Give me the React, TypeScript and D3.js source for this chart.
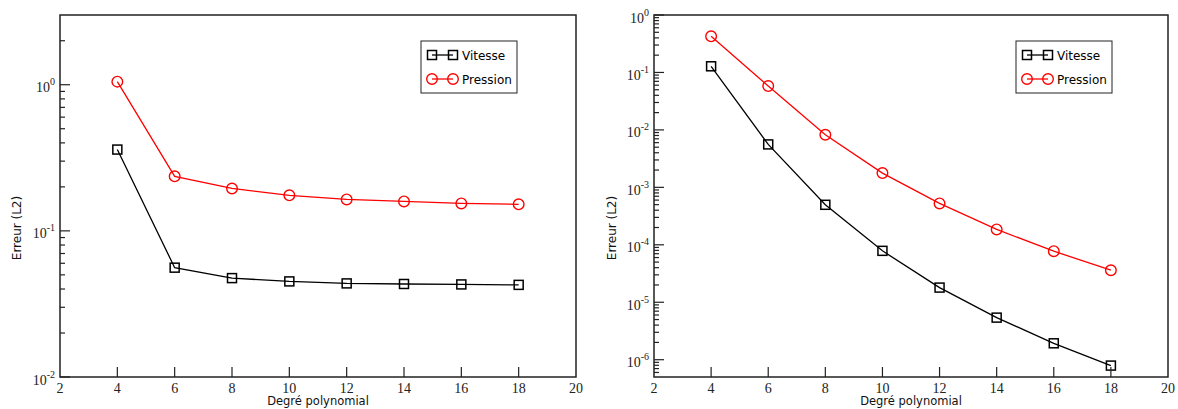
import React from "react";
import * as d3 from "d3";

const degrees = [4, 6, 8, 10, 12, 14, 16, 18];
const xTicks = [2, 4, 6, 8, 10, 12, 14, 16, 18, 20];

// Left panel
const leftVitesse = [0.36, 0.056, 0.0475, 0.0451, 0.0437, 0.0433, 0.043, 0.0427];
const leftPression = [1.05, 0.236, 0.195, 0.175, 0.164, 0.159, 0.154, 0.152];
const leftYDomain = [0.01, 3];
const leftDecades = [-2, -1, 0];

// Right panel
const rightVitesse = [0.128, 5.59e-3, 4.97e-4, 7.85e-5, 1.8e-5, 5.4e-6, 1.93e-6, 7.9e-7];
const rightPression = [0.425, 0.058, 8.24e-3, 1.77e-3, 5.25e-4, 1.85e-4, 7.74e-5, 3.61e-5];
const rightYDomain = [5e-7, 1];
const rightDecades = [-6, -5, -4, -3, -2, -1, 0];

const seriesNames = ["Vitesse", "Pression"];
const xTitle = "Degré polynomial";
const yTitle = "Erreur (L2)";

const SANS = "DejaVu Sans";
const SERIF = "Liberation Serif";

type PanelProps = {
  x0: number;
  x1: number;
  y0: number;
  y1: number;
  yDomain: number[];
  decades: number[];
  vitesse: number[];
  pression: number[];
  legendX: number;
  yTitleX: number;
};

function Square({ cx, cy }: { cx: number; cy: number }) {
  const s = 9;
  return (
    <rect x={cx - s / 2} y={cy - s / 2} width={s} height={s} fill="none" stroke="#000" strokeWidth={1.5} />
  );
}

function Circle({ cx, cy }: { cx: number; cy: number }) {
  return <circle cx={cx} cy={cy} r={5.3} fill="none" stroke="#ff0000" strokeWidth={1.4} />;
}

function Panel(p: PanelProps) {
  const x = d3.scaleLinear().domain([2, 20]).range([p.x0, p.x1]);
  const y = d3.scaleLog().domain(p.yDomain).range([p.y1, p.y0]);
  const line = d3
    .line<number>()
    .x((_, i) => x(degrees[i]))
    .y((d) => y(d));

  const [lo, hi] = p.yDomain;
  const minor: number[] = [];
  for (let e = Math.floor(Math.log10(lo)); e <= Math.ceil(Math.log10(hi)); e++) {
    for (let m = 2; m <= 9; m++) {
      const v = m * Math.pow(10, e);
      if (v > lo * 1.0001 && v < hi * 0.9999) minor.push(v);
    }
  }

  const frame = "#222";
  const midX = (p.x0 + p.x1) / 2;

  return (
    <g>
      {/* series */}
      <path d={line(p.vitesse) || ""} fill="none" stroke="#000" strokeWidth={1.3} />
      <path d={line(p.pression) || ""} fill="none" stroke="#ff0000" strokeWidth={1.3} />
      {p.vitesse.map((v, i) => (
        <Square key={"v" + i} cx={x(degrees[i])} cy={y(v)} />
      ))}
      {p.pression.map((v, i) => (
        <Circle key={"p" + i} cx={x(degrees[i])} cy={y(v)} />
      ))}

      {/* frame */}
      <rect x={p.x0} y={p.y0} width={p.x1 - p.x0} height={p.y1 - p.y0} fill="none" stroke={frame} strokeWidth={1.5} />

      {/* x ticks */}
      {xTicks.map((t) => (
        <g key={"xt" + t}>
          {t > 2 && t < 20 && (
            <line x1={x(t)} x2={x(t)} y1={p.y1} y2={p.y1 - 10} stroke={frame} strokeWidth={1.2} />
          )}
          <text x={x(t)} y={p.y1 + 15.5} textAnchor="middle" fontFamily={SERIF} fontSize={14} fill="#222">
            {t}
          </text>
        </g>
      ))}

      {/* y ticks */}
      {p.decades.map((e) => (
        <g key={"yd" + e}>
          <line x1={p.x0} x2={p.x0 + 10} y1={y(Math.pow(10, e))} y2={y(Math.pow(10, e))} stroke={frame} strokeWidth={1.2} />
          <text x={p.x0 - 5} y={y(Math.pow(10, e)) + 7.5} textAnchor="end" fontFamily={SERIF} fontSize={14} fill="#222">
            10
            <tspan fontSize={10} dy={-7}>
              {e}
            </tspan>
          </text>
        </g>
      ))}
      {minor.map((v, i) => (
        <line key={"ym" + i} x1={p.x0} x2={p.x0 + 5} y1={y(v)} y2={y(v)} stroke={frame} strokeWidth={1.2} />
      ))}

      {/* axis titles */}
      <text x={midX} y={p.y1 + 28} textAnchor="middle" fontFamily={SANS} fontSize={11.5} fill="#111">
        {xTitle}
      </text>
      <text
        transform={`translate(${p.yTitleX},${(p.y0 + p.y1) / 2 + 32}) rotate(-90)`}
        textAnchor="middle"
        fontFamily={SANS}
        fontSize={12}
        fill="#111"
      >
        {yTitle}
      </text>

      {/* legend */}
      <g>
        <rect x={p.legendX} y={41} width={96} height={52} fill="#fff" stroke={frame} strokeWidth={1} />
        <line x1={p.legendX + 11} x2={p.legendX + 32} y1={55} y2={55} stroke="#000" strokeWidth={1.3} />
        <Square cx={p.legendX + 11} cy={55} />
        <Square cx={p.legendX + 32} cy={55} />
        <text x={p.legendX + 41} y={59.5} fontFamily={SANS} fontSize={12} fill="#000">
          {seriesNames[0]}
        </text>
        <line x1={p.legendX + 11} x2={p.legendX + 32} y1={79} y2={79} stroke="#ff0000" strokeWidth={1.3} />
        <Circle cx={p.legendX + 11} cy={79} />
        <Circle cx={p.legendX + 32} cy={79} />
        <text x={p.legendX + 41} y={83.5} fontFamily={SANS} fontSize={12} fill="#000">
          {seriesNames[1]}
        </text>
      </g>
    </g>
  );
}

export default function App() {
  return (
    <svg
      width={1178}
      height={409}
      style={{ position: "absolute", left: 0, top: 0, background: "#fff" }}
    >
      <rect width={1178} height={409} fill="#fff" />
      <Panel
        x0={60}
        x1={576}
        y0={15}
        y1={377}
        yDomain={leftYDomain}
        decades={leftDecades}
        vitesse={leftVitesse}
        pression={leftPression}
        legendX={421}
        yTitleX={21}
      />
      <Panel
        x0={654}
        x1={1168}
        y0={15}
        y1={377}
        yDomain={rightYDomain}
        decades={rightDecades}
        vitesse={rightVitesse}
        pression={rightPression}
        legendX={1016}
        yTitleX={616}
      />
    </svg>
  );
}
